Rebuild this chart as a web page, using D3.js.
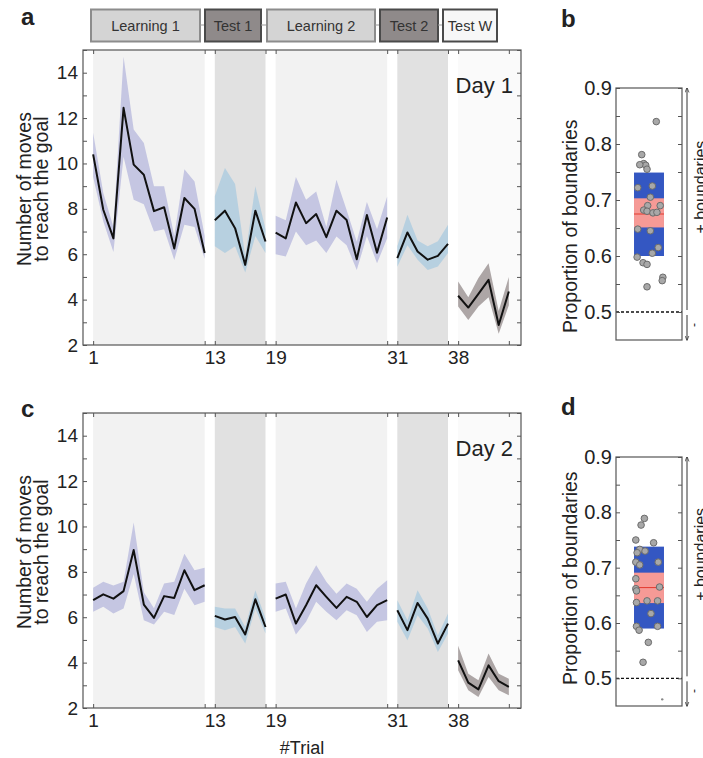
<!DOCTYPE html>
<html>
<head>
<meta charset="utf-8">
<script src="https://cdnjs.cloudflare.com/ajax/libs/d3/7.8.5/d3.min.js"></script>
<style>
  body { margin: 0; background: #fff; }
  text { font-family: "Liberation Sans", Arial, sans-serif; fill: #222; }
</style>
</head>
<body>
<svg id="fig" width="703" height="758"></svg>
<script>
// task phases
var phases     = ["Learning 1", "Test 1", "Learning 2", "Test 2", "Test W"];
var phaseLen   = [12, 6, 12, 6, 6];
var phaseKind  = ["learn", "test", "learn", "test", "testw"];
var trialTicks = ["1", "13", "19", "31", "38"];

// number of moves to reach the goal, day 1 (mean and shaded band)
var day1Mean  = [10.4, 7.96, 6.7, 12.45, 9.95, 9.5, 7.9, 8.07, 6.25, 8.48, 8.0, 6.05,
                 7.5, 7.92, 7.15, 5.53, 7.92, 6.56,
                 6.95, 6.7, 8.28, 7.37, 7.77, 6.75, 7.92, 7.51, 5.78, 7.73, 6.07, 7.62,
                 5.83, 6.96, 6.12, 5.76, 5.93, 6.46,
                 4.17, 3.65, 4.25, 4.87, 2.88, 4.36];
var day1Upper = [11.35, 8.7, 7.2, 14.7, 11.5, 10.9, 9.0, 9.0, 6.8, 9.75, 9.2, 6.8,
                 8.55, 9.8, 9.1, 5.9, 9.0, 7.1,
                 7.7, 7.5, 9.4, 8.4, 8.76, 7.2, 9.28, 7.95, 6.55, 8.3, 7.1, 8.54,
                 6.35, 7.74, 6.6, 6.35, 6.57, 7.3,
                 4.8, 4.1, 4.95, 5.6, 3.5, 5.0];
var day1Lower = [9.4, 7.45, 6.1, 10.3, 8.4, 8.2, 7.0, 7.1, 5.75, 7.3, 7.2, 5.8,
                 6.35, 6.05, 6.35, 5.2, 6.8, 6.05,
                 6.0, 5.9, 7.0, 6.4, 6.6, 6.05, 6.78, 6.4, 5.3, 6.8, 5.6, 6.7,
                 5.45, 6.4, 5.76, 5.3, 5.46, 6.05,
                 3.7, 3.1, 3.7, 4.1, 2.5, 3.75];

// day 2
var day2Mean  = [6.75, 7.01, 6.82, 7.15, 8.96, 6.56, 5.97, 6.93, 6.85, 8.07, 7.19, 7.41,
                 6.06, 5.9, 6.01, 5.24, 6.79, 5.57,
                 6.82, 7.0, 5.72, 6.53, 7.41, 6.9, 6.41, 6.9, 6.68, 6.01, 6.53, 6.75,
                 6.31, 5.43, 6.63, 5.94, 4.84, 5.72,
                 4.1, 3.12, 2.82, 3.88, 3.18, 2.93];
var day2Upper = [7.3, 7.56, 7.4, 7.56, 10.18, 7.1, 6.4, 7.49, 7.56, 8.8, 8.07, 8.18,
                 6.46, 6.38, 6.38, 5.57, 7.19, 5.94,
                 7.49, 7.56, 6.38, 7.49, 8.29, 7.56, 7.04, 7.49, 7.26, 6.68, 7.26, 7.63,
                 6.75, 5.87, 7.19, 6.38, 5.2, 6.16,
                 4.74, 3.51, 3.22, 4.4, 3.51, 3.29];
var day2Lower = [6.24, 6.46, 6.16, 6.38, 7.9, 5.87, 5.68, 6.24, 6.1, 7.26, 6.53, 6.68,
                 5.57, 5.43, 5.57, 4.84, 6.38, 5.28,
                 6.24, 6.38, 5.24, 5.8, 6.68, 6.24, 5.87, 6.31, 6.09, 5.35, 5.8, 5.87,
                 5.8, 4.99, 6.09, 5.5, 4.47, 5.28,
                 3.66, 2.78, 2.49, 3.37, 2.78, 2.56];

// proportion of boundaries, per participant (value + horizontal jitter in box units)
var propB   = [0.840, 0.781, 0.765, 0.762, 0.763, 0.755, 0.722, 0.725, 0.705, 0.690, 0.682, 0.680, 0.677,
               0.678, 0.690, 0.648, 0.645, 0.615, 0.605, 0.598, 0.588, 0.585, 0.562, 0.556, 0.545];
var jitterB = [0.11, -0.11, -0.08, -0.05, -0.14, -0.03, -0.17, 0.05, 0.02, -0.02, -0.08, -0.03, 0.06,
               0.12, 0.17, -0.17, 0.02, 0.14, 0.05, -0.18, -0.09, -0.03, 0.21, 0.20, -0.03];
var propD   = [0.789, 0.777, 0.750, 0.745, 0.733, 0.730, 0.727, 0.710, 0.710, 0.705, 0.680, 0.662, 0.658,
               0.665, 0.640, 0.637, 0.640, 0.617, 0.594, 0.594, 0.587, 0.565, 0.529];
var jitterD = [-0.07, -0.12, -0.2, 0.07, -0.14, -0.06, -0.18, -0.2, 0.14, -0.14, -0.2, -0.2, -0.19,
               0.16, -0.03, -0.19, 0.13, 0.03, -0.19, 0.13, -0.15, -0.01, -0.09];
var outlierD = [0.462];
var outlierJitD = [0.2];

// box stats: q1, ci low, median, ci high, q3
var statsB = [0.600, 0.651, 0.675, 0.703, 0.749];
var statsD = [0.590, 0.636, 0.664, 0.691, 0.738];

var svg = d3.select("#fig");

var starts = [], ends = [];
var acc = 0;
phaseLen.forEach(function(n){ starts.push(acc); ends.push(acc + n - 1); acc += n; });

var bgColor   = {learn: "#f2f2f2", test: "#e1e1e1", testw: "#fafafa"};
var bandColor = {learn: "#7b7fc8", test: "#8ec0e0", testw: "#6e6060"};
var bandAlpha = {learn: 0.38, test: 0.5, testw: 0.55};

var x = d3.scaleLinear().domain([-1, 42.2]).range([83, 521]);

// arrow heads
var defs = svg.append("defs");
defs.append("marker").attr("id", "arr").attr("viewBox", "0 0 10 10")
    .attr("refX", 9).attr("refY", 5).attr("markerWidth", 5).attr("markerHeight", 5)
    .attr("orient", "auto")
  .append("path").attr("d", "M0,1 L10,5 L0,9").attr("fill", "none").attr("stroke", "#333").attr("stroke-width", 1.5);

// header with phase boxes
var headBoxes = [[91, 200], [205, 261], [267, 375], [380, 438], [443, 497]];
var headFill   = {learn: "#d4d4d4", test: "#8f8a8a", testw: "#f7f7f7"};
var headStroke = {learn: "#8c8c8c", test: "#4a4a4a", testw: "#4a4a4a"};
var head = svg.append("g");
headBoxes.forEach(function(b, i){
  if (i > 0) {
    head.append("line").attr("x1", headBoxes[i-1][1]).attr("x2", b[0])
        .attr("y1", 25).attr("y2", 25).attr("stroke", "#999");
  }
  head.append("rect").attr("x", b[0]).attr("y", 9.5).attr("width", b[1] - b[0]).attr("height", 32)
      .attr("fill", headFill[phaseKind[i]]).attr("stroke", headStroke[phaseKind[i]]).attr("stroke-width", 2);
  head.append("text").attr("x", (b[0] + b[1]) / 2).attr("y", 31).attr("text-anchor", "middle")
      .style("font-size", "14.5px").style("fill", "#333").text(phases[i]);
});

function trialPanel(top, mean, upper, lower, dayText) {
  var h = 295;
  var y = d3.scaleLinear().domain([2, 15]).range([top + h, top]);
  var g = svg.append("g");

  phases.forEach(function(p, i){
    var x0 = x(starts[i]);
    var x1 = phaseKind[i] == "testw" ? x.range()[1] : x(ends[i]);
    g.append("rect").attr("x", x0).attr("y", top).attr("width", x1 - x0).attr("height", h)
     .attr("fill", bgColor[phaseKind[i]]);
  });

  phases.forEach(function(p, i){
    var idx = d3.range(starts[i], ends[i] + 1);
    var k = phaseKind[i];
    g.append("path").datum(idx)
     .attr("fill", bandColor[k]).attr("fill-opacity", bandAlpha[k])
     .attr("d", d3.area()
        .x(function(d){ return x(d); })
        .y0(function(d){ return y(lower[d]); })
        .y1(function(d){ return y(upper[d]); }));
    g.append("path").datum(idx)
     .attr("fill", "none").attr("stroke", "#111").attr("stroke-width", 2)
     .attr("stroke-linejoin", "round")
     .attr("d", d3.line()
        .x(function(d){ return x(d); })
        .y(function(d){ return y(mean[d]); }));
  });

  var xt = starts.concat(ends);
  var yt = d3.range(2, 16);

  var yl = g.append("g").attr("transform", "translate(" + x.range()[0] + ",0)")
    .call(d3.axisLeft(y).tickValues(yt).tickSizeInner(-4).tickSizeOuter(0).tickPadding(5)
      .tickFormat(function(d){ return (d % 2 == 0 && d < 15) ? d : ""; }));
  var yr = g.append("g").attr("transform", "translate(" + x.range()[1] + ",0)")
    .call(d3.axisRight(y).tickValues(yt).tickSizeInner(-4).tickSizeOuter(0).tickFormat(""));
  var xb = g.append("g").attr("transform", "translate(0," + (top + h) + ")")
    .call(d3.axisBottom(x).tickValues(xt).tickSizeInner(-4).tickSizeOuter(0).tickPadding(6)
      .tickFormat(function(d){ var i = starts.indexOf(d); return i >= 0 ? trialTicks[i] : ""; }));
  var xtp = g.append("g").attr("transform", "translate(0," + top + ")")
    .call(d3.axisTop(x).tickValues(xt).tickSizeInner(-4).tickSizeOuter(0).tickFormat(""));

  [yl, yr, xb, xtp].forEach(function(a){
    a.select(".domain").remove();
    a.selectAll(".tick line").attr("stroke", "#555");
    a.selectAll("text").style("font-size", "19px").style("font-family", null);
  });

  g.append("rect").attr("x", x.range()[0]).attr("y", top).attr("width", x.range()[1] - x.range()[0])
   .attr("height", h).attr("fill", "none").attr("stroke", "#555").attr("stroke-width", 1.2);

  g.append("text").attr("x", 513).attr("y", top + 42.5).attr("text-anchor", "end")
   .style("font-size", "22px").text(dayText);

  var lab = g.append("text").attr("transform", "translate(31," + (top + 139) + ") rotate(-90)")
    .attr("text-anchor", "middle").style("font-size", "19.5px");
  lab.append("tspan").attr("x", 0).attr("y", 0).text("Number of moves");
  lab.append("tspan").attr("x", 0).attr("y", 17).text("to reach the goal");
}

function boxPanel(top, bottom, props, jit, stats, outs, outJit, labelStart) {
  var g = svg.append("g");
  var y = d3.scaleLinear().domain([0.45, 0.9]).range([bottom, top]);
  var bx = d3.scaleLinear().domain([0.5, 1.5]).range([616, 682]);
  var hw = 0.227;

  g.append("rect").attr("x", bx(1 - hw)).attr("y", y(stats[4]))
   .attr("width", bx(1 + hw) - bx(1 - hw)).attr("height", y(stats[0]) - y(stats[4]))
   .attr("fill", "#3457c2");
  g.append("rect").attr("x", bx(1 - hw)).attr("y", y(stats[3]))
   .attr("width", bx(1 + hw) - bx(1 - hw)).attr("height", y(stats[1]) - y(stats[3]))
   .attr("fill", "#f69a96");
  g.append("line").attr("x1", bx(1 - hw)).attr("x2", bx(1 + hw))
   .attr("y1", y(stats[2])).attr("y2", y(stats[2])).attr("stroke", "#e23a2e").attr("stroke-width", 1);

  g.selectAll("circle.p").data(props).enter().append("circle").attr("class", "p")
   .attr("cx", function(d, i){ return bx(1 + jit[i]); })
   .attr("cy", function(d){ return y(d); })
   .attr("r", 3.3).attr("fill", "#a8a8a8").attr("stroke", "#6c6c6c").attr("stroke-width", 1);
  g.selectAll("circle.o").data(outs).enter().append("circle").attr("class", "o")
   .attr("cx", function(d, i){ return bx(1 + outJit[i]); })
   .attr("cy", function(d){ return y(d); })
   .attr("r", 1.2).attr("fill", "#888");

  g.append("line").attr("x1", 616).attr("x2", 682).attr("y1", y(0.5)).attr("y2", y(0.5))
   .attr("stroke", "#111").attr("stroke-width", 1.3).attr("stroke-dasharray", "3,2");

  var ticks = d3.range(10, 19).map(function(d){ return d * 0.05; });
  var al = g.append("g").attr("transform", "translate(616,0)")
    .call(d3.axisLeft(y).tickValues(ticks).tickSizeInner(-4).tickSizeOuter(0).tickPadding(4)
      .tickFormat(function(d){ return Math.round(d * 100) % 10 == 0 ? d3.format(".1f")(d) : ""; }));
  var ar = g.append("g").attr("transform", "translate(682,0)")
    .call(d3.axisRight(y).tickValues(ticks).tickSizeInner(-4).tickSizeOuter(0).tickFormat(""));
  [al, ar].forEach(function(a){
    a.select(".domain").remove();
    a.selectAll(".tick line").attr("stroke", "#555");
    a.selectAll("text").style("font-size", "20px").style("font-family", null);
  });

  g.append("rect").attr("x", 616).attr("y", top).attr("width", 66).attr("height", bottom - top)
   .attr("fill", "none").attr("stroke", "#555").attr("stroke-width", 1.2);

  g.append("text").attr("transform", "translate(577," + labelStart + ") rotate(-90)")
   .attr("text-anchor", "start").style("font-size", "19.5px").text("Proportion of boundaries");

  g.append("line").attr("x1", 687).attr("x2", 687).attr("y1", y(0.5) - 2).attr("y2", y(0.9))
   .attr("stroke", "#333").attr("stroke-width", 1).attr("marker-end", "url(#arr)");
  g.append("line").attr("x1", 687).attr("x2", 687).attr("y1", y(0.5) + 3).attr("y2", bottom)
   .attr("stroke", "#333").attr("stroke-width", 1).attr("marker-end", "url(#arr)");
  g.append("text").attr("transform", "translate(706," + y(0.64) + ") rotate(-90)")
   .style("font-size", "16px").text("+ boundaries");
  g.append("text").attr("transform", "translate(698," + y(0.477) + ") rotate(-90)")
   .attr("text-anchor", "middle").style("font-size", "12px").text("-");
}

trialPanel(50, day1Mean, day1Upper, day1Lower, "Day 1");
trialPanel(413, day2Mean, day2Upper, day2Lower, "Day 2");
boxPanel(88, 340, propB, jitterB, statsB, [], [], 333);
boxPanel(457, 706, propD, jitterD, statsD, outlierD, outlierJitD, 685);

svg.append("text").attr("x", 302).attr("y", 754).attr("text-anchor", "middle")
   .style("font-size", "18px").text("#Trial");

var panelLabels = [["a", 21, 25], ["b", 561, 27], ["c", 21, 417], ["d", 561, 415]];
panelLabels.forEach(function(p){
  svg.append("text").attr("x", p[1]).attr("y", p[2]).style("font-size", "24px")
     .style("font-weight", "bold").text(p[0]);
});
</script>
</body>
</html>
